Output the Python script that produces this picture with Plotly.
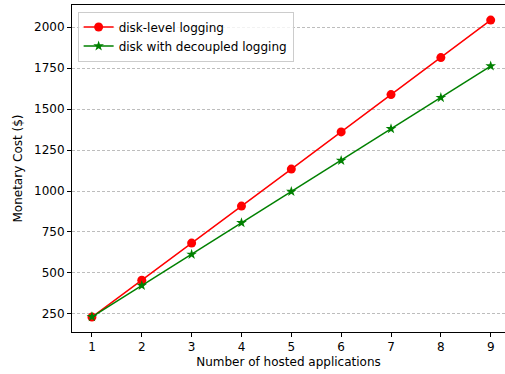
import plotly.graph_objects as go

apps = [1, 2, 3, 4, 5, 6, 7, 8, 9]
disk_level = [230, 455, 682, 908, 1134, 1361, 1589, 1815, 2044]
decoupled = [232, 423, 613, 806, 997, 1186, 1380, 1570, 1763]
y_ticks = [250, 500, 750, 1000, 1250, 1500, 1750, 2000]

fig = go.Figure()
fig.add_trace(go.Scatter(x=apps, y=disk_level, mode="lines+markers", name="disk-level logging",
                         line=dict(color="#ff0000", width=1.5),
                         marker=dict(symbol="circle", size=9, color="#ff0000")))
fig.add_trace(go.Scatter(x=apps, y=decoupled, mode="lines+markers", name="disk with decoupled logging",
                         line=dict(color="#008000", width=1.5),
                         marker=dict(symbol="star", size=8, color="#008000")))

font = dict(family="DejaVu Sans", size=12, color="#262626")
fig.update_layout(
    width=505, height=374,
    margin=dict(l=72, r=0, t=5, b=42),
    paper_bgcolor="white", plot_bgcolor="white",
    font=font,
    showlegend=True,
    legend=dict(x=0.013, y=0.98, xanchor="left", yanchor="top",
                bgcolor="rgba(255,255,255,0.8)", bordercolor="#cccccc", borderwidth=1,
                font=dict(family="DejaVu Sans", size=12, color="#000000"),
                tracegroupgap=0, itemwidth=30),
    xaxis=dict(range=[0.6, 9.287], tickvals=apps, ticks="outside", ticklen=4, tickcolor="black",
               showline=True, linecolor="black", linewidth=1, mirror=True, showgrid=False,
               zeroline=False,
               title=dict(text="Number of hosted applications", font=dict(family="DejaVu Sans", size=12, color="black"), standoff=4),
               tickfont=dict(family="DejaVu Sans", size=12, color="black")),
    yaxis=dict(range=[139, 2136], tickvals=y_ticks, ticks="outside", ticklen=4, tickcolor="black",
               showline=True, linecolor="black", linewidth=1, showgrid=True,
               gridcolor="#bdbdbd", griddash="3px,2px", gridwidth=1, zeroline=False,
               title=dict(text="Monetary Cost ($)", font=dict(family="DejaVu Sans", size=12, color="black"), standoff=8),
               tickfont=dict(family="DejaVu Sans", size=12, color="black")),
)
fig.write_html("out.html", config={"displayModeBar": False},
               post_script="document.body.style.margin='0';document.body.style.padding='0';")
